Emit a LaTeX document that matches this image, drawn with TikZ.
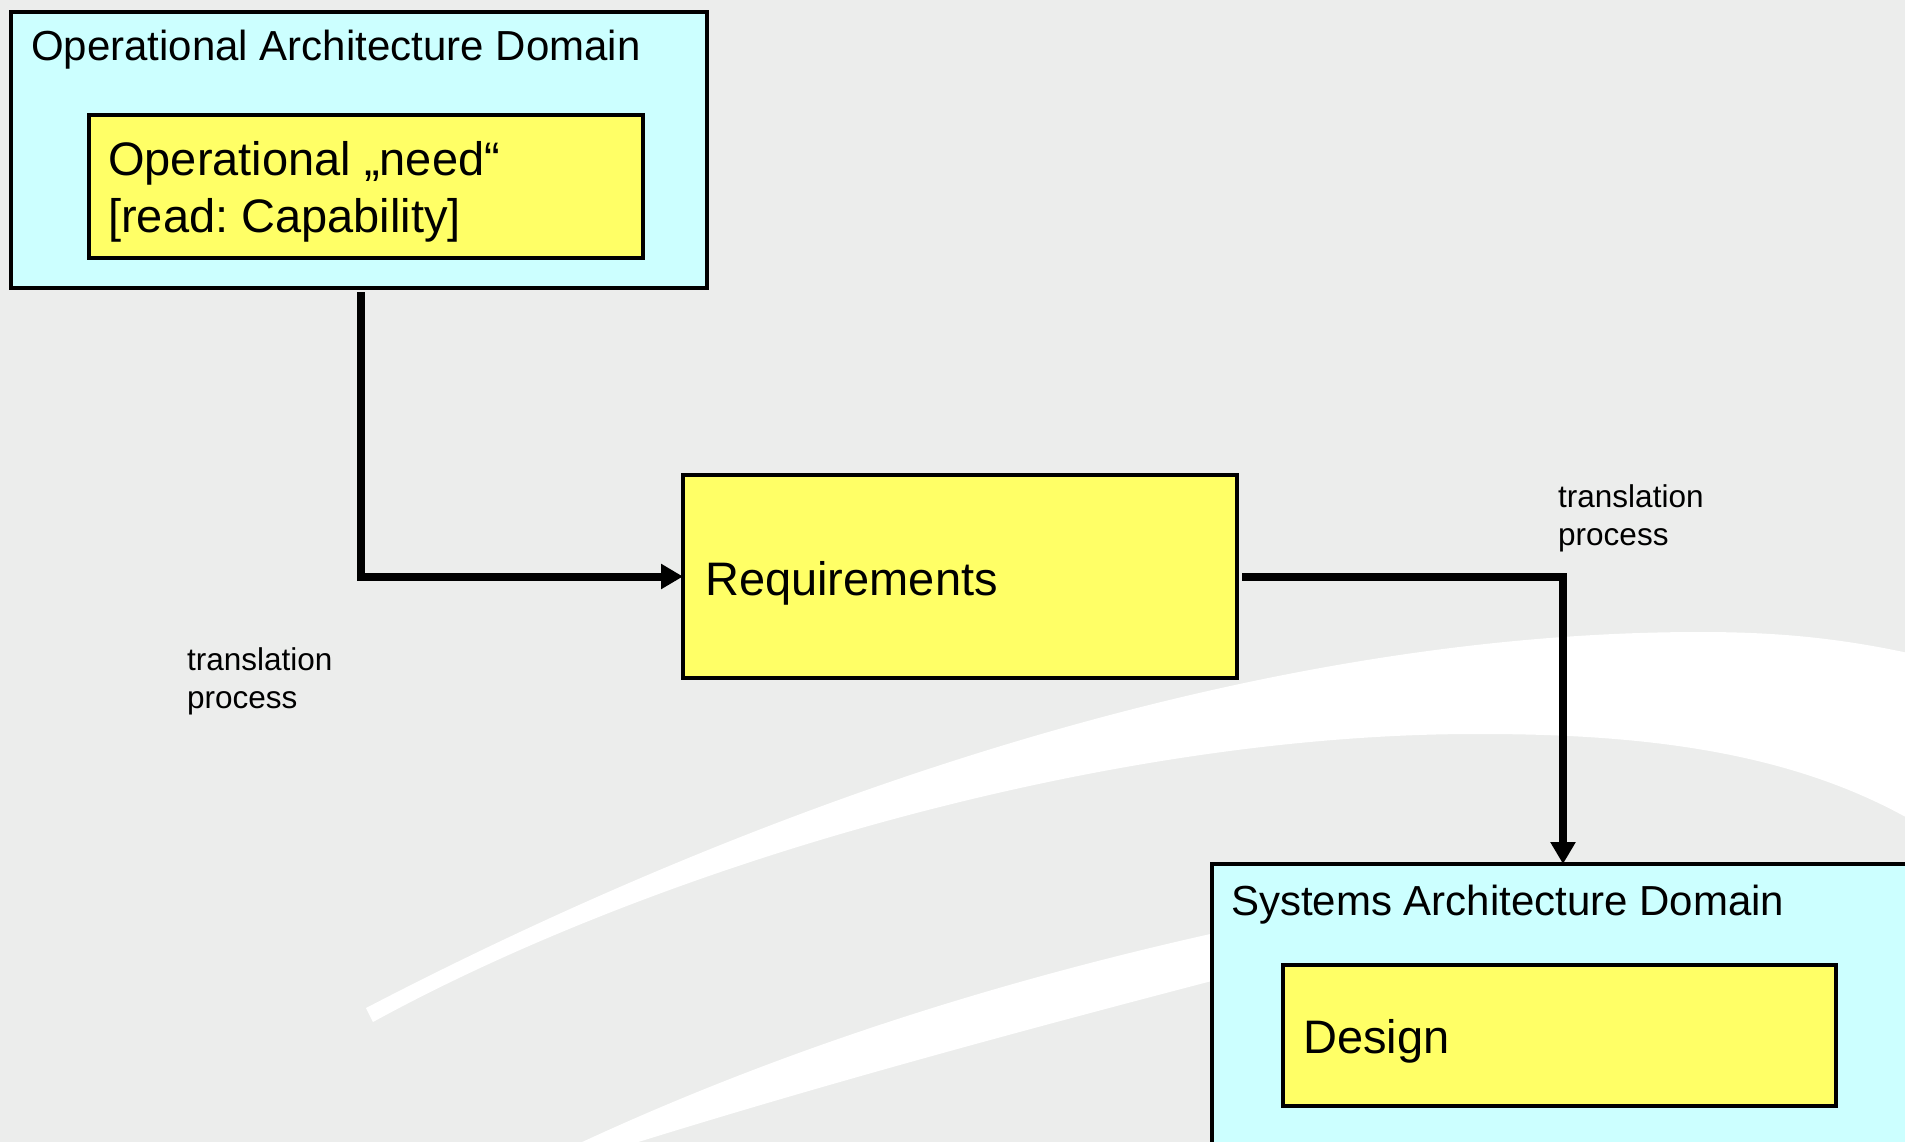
\documentclass[tikz,border=0pt]{standalone}
\usepackage{fontspec}
\setmainfont{Liberation Sans}
\usetikzlibrary{arrows.meta}
\definecolor{bg}{RGB}{236,237,236}
\definecolor{cyanbox}{RGB}{204,255,255}
\definecolor{yel}{RGB}{255,255,102}
\frenchspacing
\begin{document}
\begin{tikzpicture}[x=1pt,y=-1pt,
  domainbox/.style={draw=black, line width=4.5pt, fill=cyanbox, inner sep=0pt, outer sep=0pt, anchor=north west},
  yelbox/.style={draw=black, line width=4.5pt, fill=yel, inner sep=0pt, outer sep=0pt, anchor=north west},
  titletext/.style={anchor=base west, inner sep=0pt, font=\fontsize{42}{50}\selectfont},
  bigtext/.style={anchor=base west, inner sep=0pt, align=left, font=\fontsize{47}{56}\selectfont},
  smalltext/.style={anchor=base west, inner sep=0pt, align=left, font=\fontsize{31.5}{38}\selectfont},
  flow/.style={line width=8pt, -{Triangle[length=22pt,width=24pt]}}
]
\useasboundingbox (0,0) rectangle (1905,1142);
\clip (0,0) rectangle (1905,1142);
\fill[bg] (0,0) rectangle (1905,1142);

% white swooshes
\fill[white] (366,1008) .. controls (766,800) and (1250,632) .. (1700,632)
  .. controls (1800,632) and (1880,642) .. (1995,675)
  -- (1995,880)
  .. controls (1860,760) and (1680,734) .. (1480,734)
  .. controls (1100,733) and (650,870) .. (373,1022) -- cycle;
\fill[white] (540,1162) .. controls (750,1060) and (1000,975) .. (1300,915)
  -- (1300,958)
  .. controls (1100,1010) and (850,1075) .. (600,1154) -- cycle;

% operational domain
\node[domainbox, minimum width=696pt, minimum height=276pt] (op) at (11,12) {};
\node[titletext] (optitle) at (31,61) {Operational Architecture Domain};
\node[yelbox, minimum width=554pt, minimum height=143pt] (need) at (89,115) {};
\node[bigtext] (needtext) at (108,232) {Operational „need“\\{}[read: Capability]};

% requirements
\node[yelbox, minimum width=554pt, minimum height=203pt] (req) at (683,475) {};
\node[bigtext] (reqtext) at (705,595) {Requirements};

% systems domain
\node[domainbox, minimum width=702pt, minimum height=306pt] (sys) at (1212,864) {};
\node[titletext] (systitle) at (1231,915) {Systems Architecture Domain};
\node[yelbox, minimum width=553pt, minimum height=141pt] (design) at (1283,965) {};
\node[bigtext] (designtext) at (1303,1053) {Design};

% labels
\node[smalltext] (lab1) at (187,708) {translation\\process};
\node[smalltext] (lab2) at (1558,545) {translation\\process};

% connectors
\draw[flow, shorten <=4pt] ([xshift=2pt]op.south) |- (req.west);
\draw[flow, shorten <=5pt] (req.east) -| (sys.north);
\end{tikzpicture}
\end{document}
